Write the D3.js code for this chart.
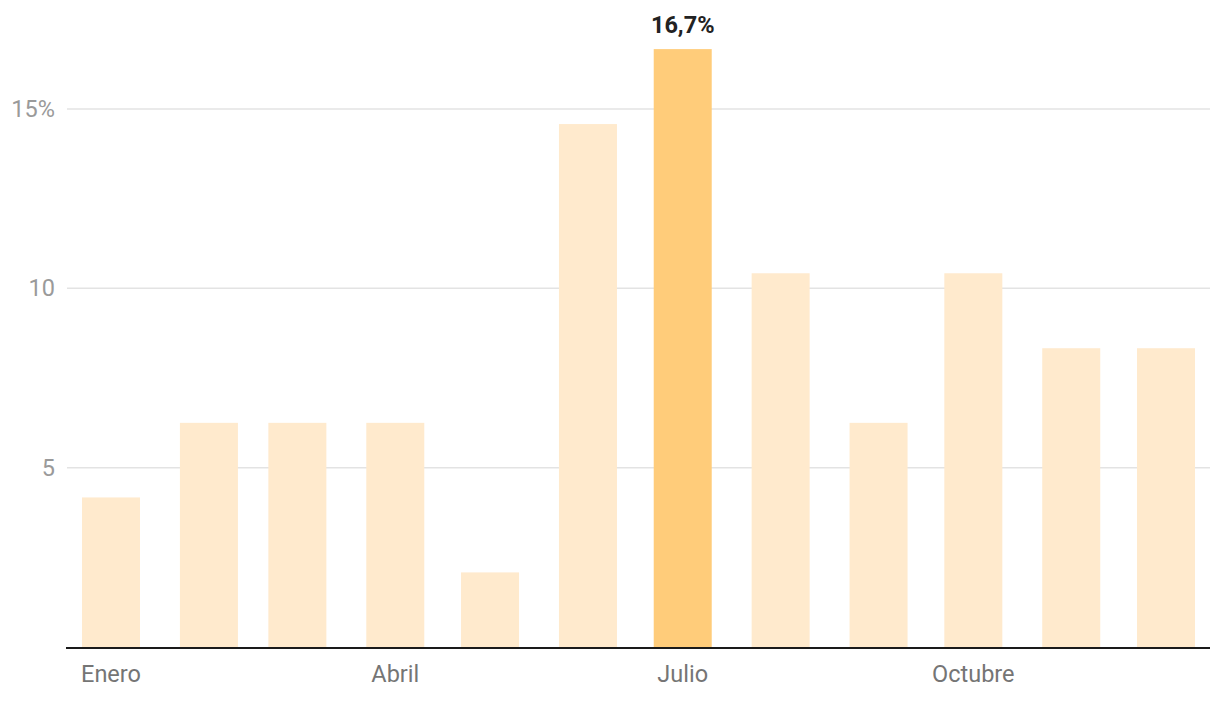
<!DOCTYPE html>
<html><head><meta charset="utf-8">
<script src="https://cdn.jsdelivr.net/npm/d3@7"></script>
<style>body{margin:0;background:#fff;font-family:Roboto,sans-serif}</style>
</head><body><svg id="c" width="1220" height="704"></svg>
<script>
const months = ["Enero","Febrero","Marzo","Abril","Mayo","Junio","Julio","Agosto","Septiembre","Octubre","Noviembre","Diciembre"];
const values = [4.17,6.25,6.25,6.25,2.08,14.58,16.67,10.42,6.25,10.42,8.33,8.33];
const highlight = "Julio";
const highlightLabel = "16,7%";
const yTicks = [5,10,15];
const yTickLabels = ["5","10","15%"];
const xTickMonths = ["Enero","Abril","Julio","Octubre"];

const svg = d3.select("#c");
const data = months.map((m,i)=>({m, date:new Date(2023,i,1), v:values[i]}));
const x = d3.scaleTime().domain([new Date(2023,0,1), new Date(2023,11,1)]).range([82,1137]);
const bw = 58;
const y = d3.scaleLinear().domain([0,15]).range([647,109]);
const left = 67, right = 1210;
const fs = 23.5;

// gridlines
svg.append("g").selectAll("line").data(yTicks).join("line")
  .attr("x1",left).attr("x2",right).attr("y1",d=>y(d)).attr("y2",d=>y(d))
  .attr("stroke","#e3e3e3").attr("stroke-width",1.5);
svg.append("g").selectAll("text").data(yTicks).join("text")
  .attr("x",55).attr("y",d=>y(d)+8).attr("text-anchor","end")
  .attr("font-size",fs).attr("fill","#9a9a9a").text((d,i)=>yTickLabels[i]);

// bars
svg.append("g").selectAll("rect").data(data).join("rect")
  .attr("x",d=>x(d.date)).attr("width",bw)
  .attr("y",d=>y(d.v)).attr("height",d=>y(0)-y(d.v))
  .attr("fill",d=>d.m===highlight?"#ffcc7a":"#ffeacd");

// baseline
svg.append("line").attr("x1",left-1).attr("x2",right).attr("y1",y(0)+1).attr("y2",y(0)+1)
  .attr("stroke","#1a1a1a").attr("stroke-width",2);

// x labels
svg.append("g").selectAll("text").data(data.filter(d=>xTickMonths.includes(d.m))).join("text")
  .attr("x",d=>x(d.date)+bw/2).attr("y",682).attr("text-anchor","middle")
  .attr("font-size",fs).attr("fill","#757575").text(d=>d.m);

// annotation
const h = data.find(d=>d.m===highlight);
svg.append("text").attr("x",x(h.date)+bw/2).attr("y",y(h.v)-16).attr("text-anchor","middle")
  .attr("font-size",fs).attr("font-weight","bold").attr("fill","#222").text(highlightLabel);
</script></body></html>
